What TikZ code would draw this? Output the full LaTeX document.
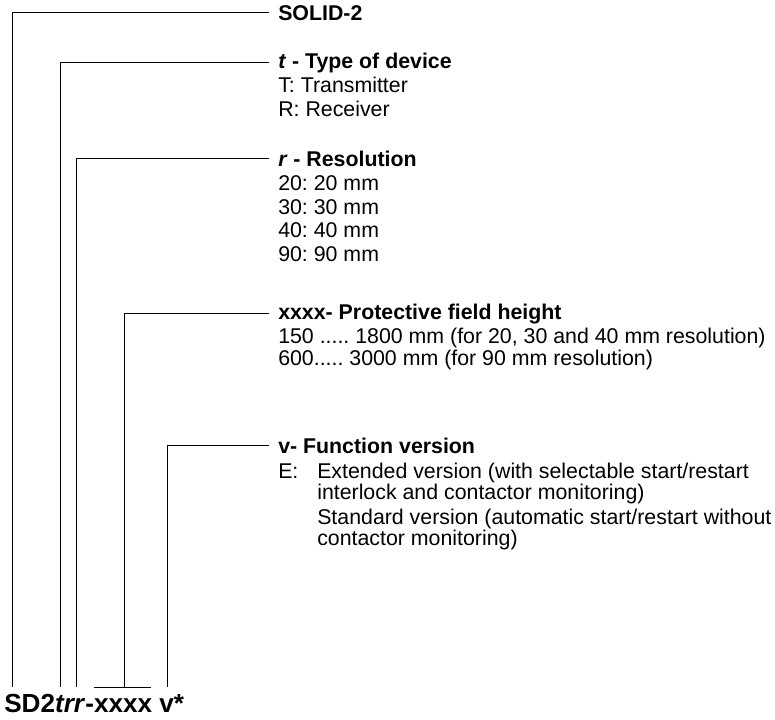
\documentclass[tikz,border=0pt]{standalone}
\usepackage{fontspec}
\setmainfont{Liberation Sans}
\frenchspacing
\begin{document}
\begin{tikzpicture}[x=0.75pt,y=-0.75pt,
  txt/.style={anchor=base west,inner sep=0pt,font=\fontsize{16}{18}\selectfont},
  head/.style={txt,font=\fontsize{16}{18}\selectfont\bfseries},
  lead/.style={line width=0.75pt}]
\useasboundingbox (0,0) rectangle (775,719);
% bottom code
\node[anchor=base west,inner sep=0pt,font=\fontsize{19.6}{22}\selectfont\bfseries] (code) at (4,712) {SD2\textit{trr}-xxxx v*};
\coordinate (p1) at (12,687);
\coordinate (p2) at (60,687);
\coordinate (p3) at (76,687);
\coordinate (p4) at (124.7,687);
\coordinate (p4a) at (94,687);
\coordinate (p4b) at (151,687);
\coordinate (p5) at (167,687);
% group 1
\node[head] (h1) at (278,20) {SOLID-2};
% group 2
\node[head] (h2) at (278,68) {\textit{t} - Type of device};
\node[txt] (b21) at (278,92) {T: Transmitter};
\node[txt] (b22) at (278,116) {R: Receiver};
% group 3
\node[head] (h3) at (278,166) {\textit{r} - Resolution};
\node[txt] (b31) at (278,190) {20: 20 mm};
\node[txt] (b32) at (278,214) {30: 30 mm};
\node[txt] (b33) at (278,237) {40: 40 mm};
\node[txt] (b34) at (278,261) {90: 90 mm};
% group 4
\node[head] (h4) at (278,319) {xxxx- Protective field height};
\node[txt] (b41) at (278,343) {150 ..... 1800 mm (for 20, 30 and 40 mm resolution)};
\node[txt] (b42) at (278,365) {600..... 3000 mm (for 90 mm resolution)};
% group 5
\node[head] (h5) at (278,453) {v- Function version};
\node[txt] (b51) at (278,478) {E:};
\node[txt] (b52) at (317,478) {Extended version (with selectable start/restart};
\node[txt] (b53) at (317,499) {interlock and contactor monitoring)};
\node[txt] (b54) at (317,524) {Standard version (automatic start/restart without};
\node[txt] (b55) at (317,545) {contactor monitoring)};
% leader lines
\draw[lead] (p1) |- ([xshift=-6.5pt]h1.west);
\draw[lead] (p2) |- ([xshift=-6.5pt]h2.west);
\draw[lead] (p3) |- ([xshift=-6.5pt]h3.west);
\draw[lead] (p4) |- ([xshift=-6.5pt]h4.west);
\draw[lead] (p4a) -- (p4b);
\draw[lead] (p5) |- ([xshift=-6.5pt]h5.west);
\end{tikzpicture}
\end{document}
